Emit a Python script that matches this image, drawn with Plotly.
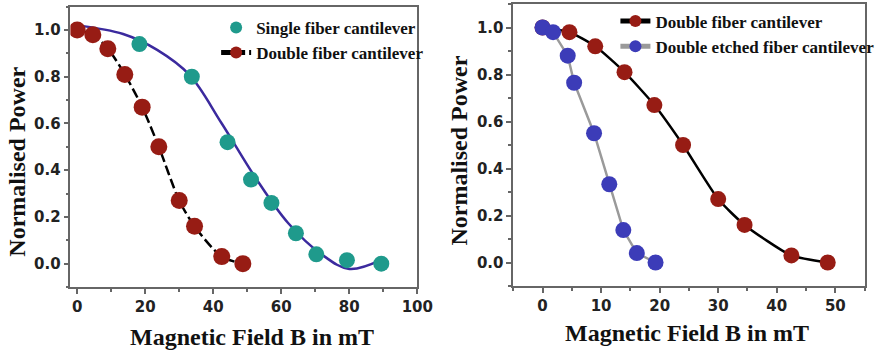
import plotly.graph_objects as go

# ---- data ----
single_x = [18.3, 33.7, 44.2, 51.1, 57.1, 64.3, 70.3, 79.3, 89.4]
single_y = [0.94, 0.80, 0.52, 0.36, 0.26, 0.13, 0.04, 0.015, 0.0]

fit_x = [0, 13.5, 23.5, 33, 42.5, 52.5, 62, 72, 80, 89.5]
fit_y = [1.02, 0.983, 0.915, 0.808, 0.60, 0.366, 0.174, 0.038, -0.023, 0.017]

double_x = [0, 4.6, 9.0, 14.0, 19.1, 24.0, 30.0, 34.5, 42.5, 48.7]
double_y = [1.0, 0.98, 0.92, 0.81, 0.67, 0.50, 0.27, 0.16, 0.03, 0.0]

etched_x = [0, 1.8, 4.3, 5.4, 8.8, 11.4, 13.8, 16.1, 19.3]
etched_y = [1.0, 0.98, 0.88, 0.765, 0.55, 0.333, 0.138, 0.04, 0.0]

x1_ticks = [0, 20, 40, 60, 80, 100]
x2_ticks = [0, 10, 20, 30, 40, 50]
y_ticks = [0.0, 0.2, 0.4, 0.6, 0.8, 1.0]

RED = "#971c14"
TEAL = "#1f9a8c"
FITBLUE = "#3b2a9e"
EBLUE = "#3c3cb8"
GRAY = "#9a9a9a"
SERIF = "Liberation Serif"
SANS = "DejaVu Sans"

fig = go.Figure()

# left panel
fig.add_trace(go.Scatter(x=fit_x, y=fit_y, mode="lines", line=dict(color=FITBLUE, width=2.5, shape="spline"),
                         showlegend=False, xaxis="x", yaxis="y"))
fig.add_trace(go.Scatter(x=single_x, y=single_y, mode="markers", name="Single fiber cantilever",
                         marker=dict(color=TEAL, size=16), xaxis="x", yaxis="y", legend="legend"))
fig.add_trace(go.Scatter(x=double_x, y=double_y, mode="lines+markers", name="Double fiber cantilever",
                         line=dict(color="black", width=2.5, dash="10px,4px", shape="spline", smoothing=0.8),
                         marker=dict(color=RED, size=17), xaxis="x", yaxis="y", legend="legend"))

# right panel
fig.add_trace(go.Scatter(x=double_x, y=double_y, mode="lines+markers", name="Double fiber cantilever",
                         line=dict(color="black", width=2.5, shape="spline", smoothing=0.6),
                         marker=dict(color=RED, size=16), xaxis="x2", yaxis="y2", legend="legend2"))
fig.add_trace(go.Scatter(x=etched_x, y=etched_y, mode="lines+markers", name="Double etched fiber cantilever",
                         line=dict(color=GRAY, width=2.5),
                         marker=dict(color=EBLUE, size=16), xaxis="x2", yaxis="y2", legend="legend2"))

axis_common = dict(showline=True, mirror=True, linecolor="#666", linewidth=1.5, showgrid=False, zeroline=False,
                   ticks="outside", ticklen=5, tickwidth=1.5, tickcolor="#666",
                   tickfont=dict(family=SANS, size=15, color="#222", weight="bold"))

fig.update_layout(
    width=884, height=352, margin=dict(l=0, r=0, t=0, b=0),
    paper_bgcolor="white", plot_bgcolor="white",
    xaxis=dict(domain=[0.0811, 0.4808], range=[-2, 100], tickvals=x1_ticks, anchor="y",
               minor=dict(ticks="outside", ticklen=3, dtick=10, tickcolor="#666"), **axis_common),
    yaxis=dict(domain=[0.1847, 0.981], range=[-0.1, 1.1], tickvals=y_ticks, tickformat=".1f", anchor="x",
               minor=dict(ticks="outside", ticklen=3, dtick=0.1, tickcolor="#666"), **axis_common),
    xaxis2=dict(domain=[0.5913, 0.9961], range=[-5, 55], tickvals=x2_ticks, anchor="y2",
                minor=dict(ticks="outside", ticklen=3, dtick=5, tickcolor="#666"), **axis_common),
    yaxis2=dict(domain=[0.1875, 0.9886], range=[-0.1, 1.1], tickvals=y_ticks, tickformat=".1f", anchor="x2",
                minor=dict(ticks="outside", ticklen=3, dtick=0.1, tickcolor="#666"), **axis_common),
    legend=dict(x=0.249, y=0.972, xanchor="left", yanchor="top", bgcolor="rgba(0,0,0,0)",
                font=dict(family=SERIF, size=17, color="#111", weight="bold"), itemsizing="constant",
                tracegroupgap=0),
    legend2=dict(x=0.709, y=0.99, xanchor="left", yanchor="top", bgcolor="rgba(0,0,0,0)",
                 font=dict(family=SERIF, size=17, color="#111", weight="bold"), itemsizing="constant",
                 tracegroupgap=0),
)

title_font = dict(family=SERIF, size=24, color="#111", weight="bold")
fig.add_annotation(text="Magnetic Field B in mT", x=257 / 884, y=1 - 337 / 352, xref="paper", yref="paper",
                   showarrow=False, font=title_font, xanchor="center", yanchor="middle")
fig.add_annotation(text="Magnetic Field B in mT", x=700 / 884, y=1 - 333 / 352, xref="paper", yref="paper",
                   showarrow=False, font=title_font, xanchor="center", yanchor="middle")
fig.add_annotation(text="Normalised Power", x=17 / 884, y=1 - 162 / 352, xref="paper", yref="paper",
                   showarrow=False, font=title_font, textangle=-90, xanchor="center", yanchor="middle")
fig.add_annotation(text="Normalised Power", x=467 / 884, y=1 - 151 / 352, xref="paper", yref="paper",
                   showarrow=False, font=title_font, textangle=-90, xanchor="center", yanchor="middle")

fig.write_html("out.html")
